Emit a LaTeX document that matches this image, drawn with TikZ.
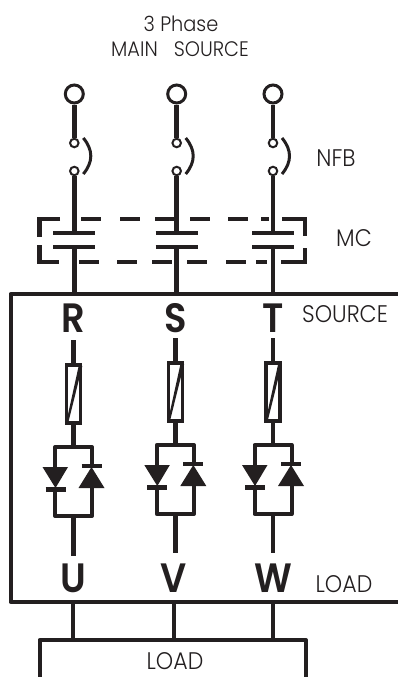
\documentclass[tikz,border=0pt]{standalone}
\usetikzlibrary{calc}
\usepackage{fontspec}
\setmainfont{Poppins}
\newfontfamily\lightf[FakeStretch=0.92]{Poppins Light}
\newfontfamily\boldf[FakeStretch=0.9]{Poppins SemiBold}
\definecolor{ink}{HTML}{231F20}
\tikzset{
 wire/.style={line width=4.5pt,draw=ink},
 frame/.style={line width=4pt,draw=ink,line join=round},
 dashseg/.style={line width=4.6pt,draw=ink},
 terminal/.style={circle,draw=ink,line width=3pt,minimum size=18pt,inner sep=0pt},
 contact/.style={circle,draw=ink,line width=2pt,minimum size=8.5pt,inner sep=0pt},
 lbl/.style={font=\lightf\fontsize{24}{26}\selectfont,text=ink,inner sep=0pt},
 sublbl/.style={font=\lightf\fontsize{21}{23}\selectfont,text=ink,inner sep=0pt},
 phase/.style={font=\boldf\fontsize{41}{42}\selectfont,text=ink,inner sep=0pt},
 fuse/.style={draw=ink,line width=3.6pt,fill=white,minimum width=14pt,minimum height=58pt,inner sep=0pt},
}
\begin{document}
\begin{tikzpicture}[x=1pt,y=-1pt]
\useasboundingbox (0,0) rectangle (398,677);
% main frame and load box
\draw[frame] (398,294) -- (10.5,294) -- (10.5,602) -- (398,602);
\draw[frame] (39.5,677) -- (39.5,640) -- (306,640) -- (306,677);
% dashed mechanical link of the contactor
\draw[dashseg] (60,219) -- (39.5,219) -- (39.5,237);
\draw[dashseg] (39.5,245) -- (39.5,262) -- (59,262);
\draw[dashseg] (81,219) -- (101,219) (120,219) -- (140,219) (155,219) -- (175,219) (190,219) -- (210,219) (228,219) -- (248,219) (261,219) -- (269,219);
\draw[dashseg] (79,262) -- (99,262) (117,262) -- (137,262) (152,262) -- (172,262) (187,262) -- (207,262) (226,262) -- (246,262) (256,262) -- (267,262);
\draw[dashseg] (282,219) -- (305,219) -- (305,236);
\draw[dashseg] (305,248) -- (305,262) -- (281,262);
% columns
\foreach \n/\xt/\xb/\lab/\low/\d/\e/\lx/\pt in {
  a/74.3/73.5/R/U/2/556/73/73,
  b/176.7/175.3/S/V/0/553/174/176,
  c/273/273/T/W/0/553/273/273}{
  \node[terminal] (term\n) at (\xt,94) {};
  \node[contact] (sa\n) at (\xt,143) {};
  \node[contact] (sb\n) at (\xt,171) {};
  \draw[line width=3pt,draw=ink] (\xt+9,138) .. controls (\xt+19,150) and (\xt+19,162) .. (\xt+9,174);
  \draw[wire] (term\n) -- (sa\n);
  \coordinate (pu\n) at (\xt,233);
  \coordinate (pl\n) at (\xt,247);
  \coordinate (top\n) at (\xt,294);
  \draw[wire] (sb\n) -- (pu\n);
  \draw[wire] (pl\n) -- (top\n);
  \draw[wire] (\xt-21,233) -- (\xt+21,233);
  \draw[wire] (\xt-21,247) -- (\xt+21,247);
  % labels
  \node[phase] (in\n) at (\pt,318) {\lab};
  \node[phase] (out\n) at (\lx,578) {\low};
  % fuse
  \coordinate (w0\n) at (\xb,338+\d);
  \coordinate (th\n) at (\xb,445+\d);
  \node[fuse] (fuse\n) at (\xb,392+\d) {};
  \draw[wire] (w0\n) -- (fuse\n.north);
  \draw[wire] (fuse\n.south) -- (th\n);
  \fill[ink] ($(fuse\n.south west)+(1,0)$) -- ($(fuse\n.north east)+(-3,0)$) -- ($(fuse\n.north east)+(0,3)$) -- ($(fuse\n.south west)+(3,0)$) -- cycle;
  % antiparallel thyristors
  \draw[frame] (\xb-18.5,445+\d+21) -- (\xb-18.5,445+\d) -- (\xb+18.5,445+\d) -- (\xb+18.5,445+\d+21);
  \draw[frame] (\xb-18.5,445+\d+42) -- (\xb-18.5,445+\d+69) -- (\xb+18.5,445+\d+69) -- (\xb+18.5,445+\d+41);
  \fill[ink] (\xb-31,445+\d+20) -- (\xb-5.5,445+\d+20) -- (\xb-18,445+\d+41) -- cycle;
  \draw[line width=4.5pt,draw=ink] (\xb-28,445+\d+42.5) -- (\xb-8,445+\d+42.5);
  \fill[ink] (\xb+5,445+\d+41) -- (\xb+31,445+\d+41) -- (\xb+18,445+\d+20) -- cycle;
  \draw[line width=4.5pt,draw=ink] (\xb+8,445+\d+19) -- (\xb+28,445+\d+19);
  % output wire
  \coordinate (o0\n) at (\xb,445+\d+69);
  \coordinate (o1\n) at (\xb,\e);
  \draw[wire] (o0\n) -- (o1\n);
  % link to load
  \coordinate (la\n) at (\lx,602);
  \coordinate (lb\n) at (\lx,640);
  \draw[wire] (la\n) -- (lb\n);
}
% text labels
\node[sublbl] (t1) at (181,23.5) {3 Phase};
\node[sublbl] (t2) at (180,49.5) {MAIN\hspace{16pt}SOURCE};
\node[lbl] (nfb) at (336,158) {NFB};
\node[lbl] (mc) at (354,238) {MC};
\node[lbl] (src) at (345,314) {SOURCE};
\node[lbl] (ld) at (344,584.5) {LOAD};
\node[lbl] (ld2) at (175,661.5) {LOAD};
\end{tikzpicture}
\end{document}
